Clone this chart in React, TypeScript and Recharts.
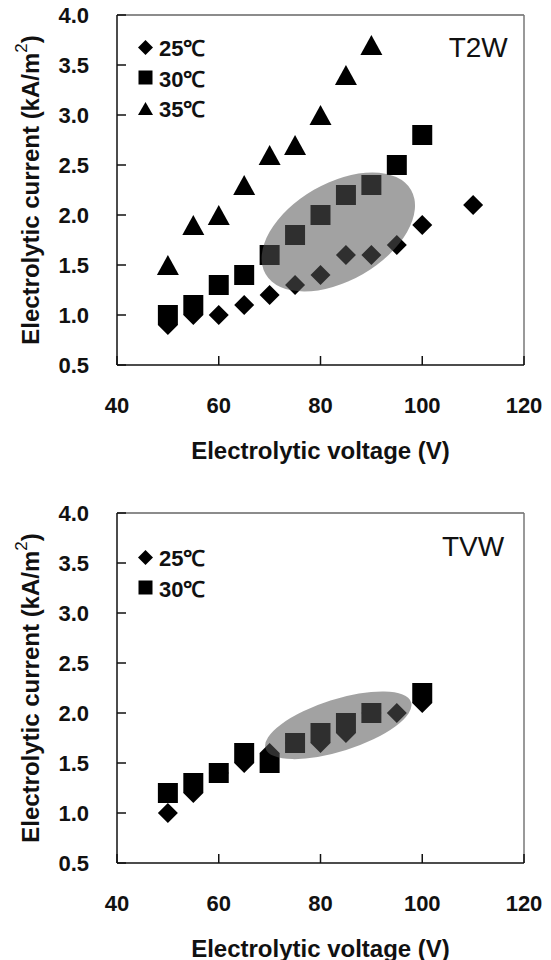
import {
  ScatterChart,
  Scatter,
  XAxis,
  YAxis,
  Legend,
  Label,
  ReferenceLine,
  ReferenceDot
} from 'recharts'

const FONT = '"Liberation Sans", Arial, sans-serif'

const voltageTicks = [40, 60, 80, 100, 120]
const currentTicks = [0.5, 1.0, 1.5, 2.0, 2.5, 3.0, 3.5, 4.0]

// T2W panel
const t2w25Volt = [50, 55, 60, 65, 70, 75, 80, 85, 90, 95, 100, 110]
const t2w25Curr = [0.9, 1.0, 1.0, 1.1, 1.2, 1.3, 1.4, 1.6, 1.6, 1.7, 1.9, 2.1]
const t2w30Volt = [50, 55, 60, 65, 70, 75, 80, 85, 90, 95, 100]
const t2w30Curr = [1.0, 1.1, 1.3, 1.4, 1.6, 1.8, 2.0, 2.2, 2.3, 2.5, 2.8]
const t2w35Volt = [50, 55, 60, 65, 70, 75, 80, 85, 90]
const t2w35Curr = [1.5, 1.9, 2.0, 2.3, 2.6, 2.7, 3.0, 3.4, 3.7]

// TVW panel
const tvw25Volt = [50, 55, 60, 65, 70, 75, 80, 85, 90, 95, 100]
const tvw25Curr = [1.0, 1.2, 1.4, 1.5, 1.6, 1.7, 1.7, 1.8, 2.0, 2.0, 2.1]
const tvw30Volt = [50, 55, 60, 65, 70, 75, 80, 85, 90, 100]
const tvw30Curr = [1.2, 1.3, 1.4, 1.6, 1.5, 1.7, 1.8, 1.9, 2.0, 2.2]

// highlighted region: ends of the major axis (data units) + minor/major ratio
const t2wEllipseVolt = [69.2, 97.8]
const t2wEllipseCurr = [1.41, 2.25]
const t2wEllipseRatio = 0.58
const tvwEllipseVolt = [69.2, 97.8]
const tvwEllipseCurr = [1.646, 2.108]
const tvwEllipseRatio = 0.34

const toPoints = (xs: number[], ys: number[]) =>
  xs.map((x, i) => ({ x, y: ys[i] }))

const diamondPath = (cx: number, cy: number, r: number) =>
  `M${cx},${cy - r}L${cx + r},${cy}L${cx},${cy + r}L${cx - r},${cy}Z`
const squarePath = (cx: number, cy: number, r: number) =>
  `M${cx - r},${cy - r}H${cx + r}V${cy + r}H${cx - r}Z`
const trianglePath = (cx: number, cy: number, w: number, h: number) =>
  `M${cx},${cy - h}L${cx + w},${cy + h}L${cx - w},${cy + h}Z`

const markerPath = (type: string, cx: number, cy: number, big: boolean) => {
  if (type === 'diamond') return diamondPath(cx, cy, big ? 10 : 7.5)
  if (type === 'square') return squarePath(cx, cy, big ? 10 : 7)
  return trianglePath(cx, cy, big ? 11 : 7.5, big ? 10 : 6.5)
}

const markerShape = (type: string) => (props: any) =>
  <path d={markerPath(type, props.cx, props.cy, true)} fill='#000' />

// draws the shaded ellipse from the two scaled major-axis end points
const ellipseLine = (ratio: number) => (props: any) => {
  const pts = props.points || []
  if (pts.length < 2) return <g />
  const [p, q] = pts
  const cx = (p.x + q.x) / 2
  const cy = (p.y + q.y) / 2
  const a = Math.hypot(q.x - p.x, q.y - p.y) / 2
  const angle = (Math.atan2(q.y - p.y, q.x - p.x) * 180) / Math.PI
  return (
    <ellipse
      cx={cx}
      cy={cy}
      rx={a}
      ry={a * ratio}
      transform={`rotate(${angle} ${cx} ${cy})`}
      fill='#555'
      fillOpacity={0.55}
      stroke='none'
    />
  )
}

const renderLegend = (props: any) => (
  <div style={{ fontFamily: FONT, fontWeight: 700, fontSize: 22, color: '#111' }}>
    {(props.payload || [])
      .filter((entry: any) => entry.type !== 'none')
      .map((entry: any) => (
        <div
          key={entry.value}
          style={{ display: 'flex', alignItems: 'center', height: 30.5 }}
        >
          <svg width={17} height={17}>
            <path d={markerPath(entry.type, 8.5, 8.5, false)} fill='#000' />
          </svg>
          <span style={{ marginLeft: 5 }}>{entry.value}</span>
        </div>
      ))}
  </div>
)

const xTitle = (props: any) => {
  const vb = props.viewBox
  return (
    <text
      x={vb.x + vb.width / 2}
      y={vb.y + 85}
      textAnchor='middle'
      dominantBaseline='central'
      fontFamily={FONT}
      fontWeight={700}
      fontSize={24}
      fill='#111'
    >
      Electrolytic voltage (V)
    </text>
  )
}

const yTitle = (props: any) => {
  const vb = props.viewBox
  const cx = vb.x + 30
  const cy = vb.y + vb.height / 2
  return (
    <text
      x={cx}
      y={cy}
      transform={`rotate(-90 ${cx} ${cy})`}
      textAnchor='middle'
      dominantBaseline='central'
      fontFamily={FONT}
      fontWeight={700}
      fontSize={24}
      fill='#111'
    >
      Electrolytic current (kA/m
      <tspan dy={-9} fontSize={17} fontWeight={400}>2</tspan>
      <tspan dy={9}>)</tspan>
    </text>
  )
}

interface Series {
  name: string
  type: 'diamond' | 'square' | 'triangle'
  data: { x: number; y: number }[]
}

interface PanelProps {
  series: Series[]
  ellipse: { x: number; y: number }[]
  ellipseRatio: number
  tag: string
  tagX: number
  tagY: number
  marginTop: number
  legendTop: number
}

const axisStroke = { stroke: '#111', strokeWidth: 1.5 }
const tickStyle = { fill: '#111', fontSize: 22, fontWeight: 700, fontFamily: FONT }

const Panel = ({
  series,
  ellipse,
  ellipseRatio,
  tag,
  tagX,
  tagY,
  marginTop,
  legendTop
}: PanelProps) => (
  <ScatterChart
    width={551}
    height={480}
    margin={{ top: marginTop, right: 27, bottom: 0, left: 0 }}
  >
    <XAxis
      type='number'
      dataKey='x'
      domain={[40, 120]}
      ticks={voltageTicks}
      interval={0}
      height={480 - marginTop - 350}
      tickSize={-9}
      tickMargin={41}
      axisLine={axisStroke}
      tickLine={axisStroke}
      tick={tickStyle}
    >
      <Label content={xTitle} />
    </XAxis>
    <YAxis
      type='number'
      dataKey='y'
      domain={[0.5, 4]}
      ticks={currentTicks}
      interval={0}
      width={117}
      tickSize={-9}
      tickMargin={37}
      axisLine={axisStroke}
      tickLine={axisStroke}
      tick={tickStyle}
      tickFormatter={(v: number) => v.toFixed(1)}
    >
      <Label content={yTitle} />
    </YAxis>
    <ReferenceLine y={4} stroke='#666' strokeWidth={1.5} />
    <ReferenceLine x={120} stroke='#777' strokeWidth={1.5} />
    {series.map((s) => (
      <Scatter
        key={s.name}
        name={s.name}
        data={s.data}
        legendType={s.type}
        fill='#000'
        shape={markerShape(s.type)}
        isAnimationActive={false}
      />
    ))}
    <Scatter
      name='region'
      data={ellipse}
      legendType='none'
      shape={() => <g />}
      line={ellipseLine(ellipseRatio)}
      lineType='joint'
      isAnimationActive={false}
    />
    <ReferenceDot
      x={tagX}
      y={tagY}
      r={1}
      fill='none'
      stroke='none'
      label={{
        value: tag,
        position: 'center',
        fontFamily: FONT,
        fontSize: 28,
        fill: '#111'
      }}
    />
    <Legend
      layout='vertical'
      align='center'
      verticalAlign='middle'
      wrapperStyle={{ left: 137, top: legendTop, width: 'auto' }}
      content={renderLegend}
    />
  </ScatterChart>
)

const t2wSeries: Series[] = [
  { name: '25℃', type: 'diamond', data: toPoints(t2w25Volt, t2w25Curr) },
  { name: '30℃', type: 'square', data: toPoints(t2w30Volt, t2w30Curr) },
  { name: '35℃', type: 'triangle', data: toPoints(t2w35Volt, t2w35Curr) }
]

const tvwSeries: Series[] = [
  { name: '25℃', type: 'diamond', data: toPoints(tvw25Volt, tvw25Curr) },
  { name: '30℃', type: 'square', data: toPoints(tvw30Volt, tvw30Curr) }
]

export default function App() {
  return (
    <div
      style={{
        position: 'absolute',
        left: 0,
        top: 0,
        width: 551,
        height: 960,
        background: '#fff'
      }}
    >
      <Panel
        series={t2wSeries}
        ellipse={toPoints(t2wEllipseVolt, t2wEllipseCurr)}
        ellipseRatio={t2wEllipseRatio}
        tag='T2W'
        tagX={111}
        tagY={3.68}
        marginTop={15}
        legendTop={32}
      />
      <Panel
        series={tvwSeries}
        ellipse={toPoints(tvwEllipseVolt, tvwEllipseCurr)}
        ellipseRatio={tvwEllipseRatio}
        tag='TVW'
        tagX={110}
        tagY={3.67}
        marginTop={33}
        legendTop={62}
      />
    </div>
  )
}
